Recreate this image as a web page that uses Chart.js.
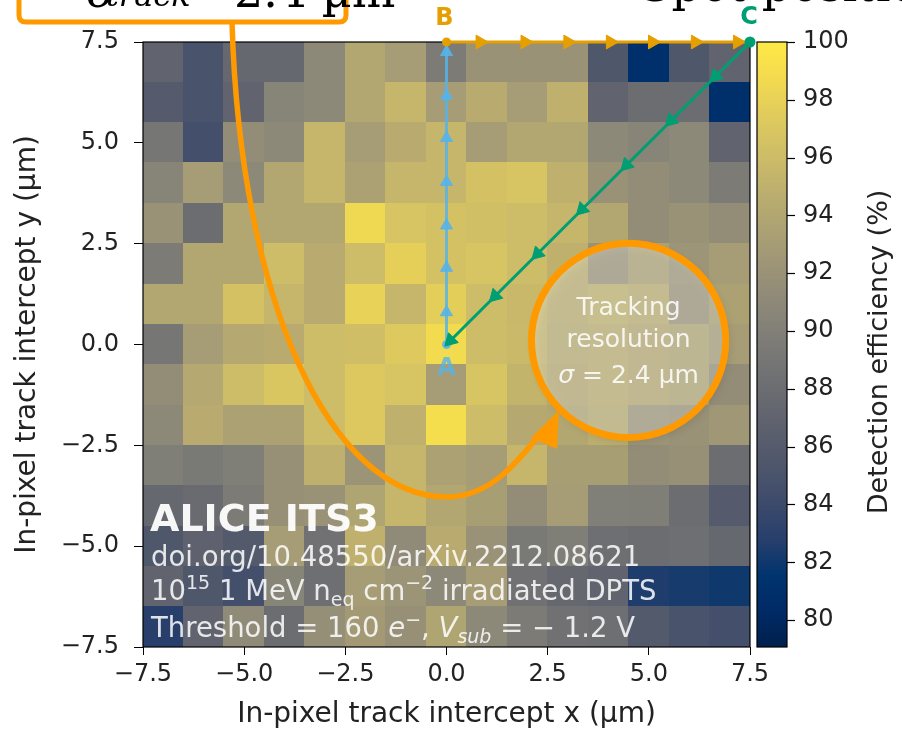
<!DOCTYPE html>
<html>
<head>
<meta charset="utf-8">
<script src="https://cdn.jsdelivr.net/npm/chart.js@4.4.1/dist/chart.umd.min.js"></script>
<style>
  html, body { margin: 0; padding: 0; background: #fff; }
</style>
</head>
<body>
<canvas id="effChart" width="902" height="732"></canvas>
<script>
// pixel-cell centres (um)
var xCenters = [-7, -6, -5, -4, -3, -2, -1, 0, 1, 2, 3, 4, 5, 6, 7];
var yCenters = [7, 6, 5, 4, 3, 2, 1, 0, -1, -2, -3, -4, -5, -6, -7];

// detection efficiency (%), one row per yCenter, columns follow xCenters
var efficiency = [
  [87, 85, 87.5, 87.5, 91, 94, 93, 89.5, 92, 92, 92, 85.5, 81, 85.5, 87],
  [86, 85, 87, 90.5, 91, 94, 95.5, 93, 94.5, 93, 95, 87, 88, 88, 81],
  [89, 84.5, 91.5, 91, 95.5, 93, 94.5, 95.5, 93, 94, 94, 91, 90.5, 91, 87],
  [90.5, 93, 91, 94, 95.5, 93.5, 95.5, 95.5, 96.5, 96.8, 95, 92, 91.5, 91, 89.5],
  [92, 88, 94, 94, 94, 98.5, 96.8, 96.5, 96.3, 96, 95.5, 94, 91.5, 92, 91.5],
  [89.5, 94, 94, 96, 94.5, 96, 97.8, 96.5, 96.8, 96, 95, 92, 93.5, 92.3, 93],
  [94, 94, 96.5, 95.5, 94.5, 98, 95.5, 97.7, 96, 95.7, 95, 95.5, 95, 92, 93.5],
  [89, 93, 94.2, 94.5, 96, 96.2, 97.3, 98.8, 96, 95.8, 94.8, 95, 94.5, 94, 93],
  [91.5, 94.2, 96, 97, 96, 97.2, 96.8, 93, 96.8, 95.3, 94.5, 95, 94.5, 94, 91.5],
  [91, 94.5, 93.5, 93.5, 96, 97.2, 95, 99, 96, 94.2, 94, 94.8, 92.3, 92, 92.5],
  [89.8, 89.3, 89.8, 91.8, 95, 92.2, 95.5, 93.5, 93, 95.5, 93.2, 93.2, 91.5, 91.8, 88],
  [87.5, 87.8, 89.5, 91.8, 92, 93.8, 95.5, 94, 93.2, 91.5, 93, 90, 89.8, 88, 86],
  [85.5, 86.8, 85.8, 93, 88.5, 95, 91.2, 94.5, 92, 89.3, 89.8, 88.2, 88, 88.3, 87.5],
  [87, 85.5, 84.5, 90.5, 88.3, 93, 92.2, 91, 93, 88.5, 87.5, 87, 82.5, 82.3, 82],
  [82.8, 87, 91.2, 88, 91.7, 92.8, 91.8, 93.8, 91, 89.5, 88.5, 88.2, 85.8, 85, 84.5]
];

var axisTicks = [-7.5, -5, -2.5, 0, 2.5, 5, 7.5];
var cbTicks = [80, 82, 84, 86, 88, 90, 92, 94, 96, 98, 100];
var cbMin = 79.07, cbMax = 100;

// scan path A -> B -> C -> A (um)
var pathAB = [{x: 0, y: 0}, {x: 0, y: 7.5}];
var arrowsAB = [0.8, 1.9, 2.95, 4.03, 5.12, 6.16, 7.25];
var pathBC = [{x: 0, y: 7.5}, {x: 7.5, y: 7.5}];
var arrowsBC = [0.83, 1.94, 3.0, 4.05, 5.09, 6.15, 7.19];
var pathCA = [{x: 7.5, y: 7.5}, {x: 0.05, y: 0.05}];
var arrowsCA = [6.65, 5.55, 4.45, 3.35, 2.25, 1.2, 0.1];

// tracking resolution circle (um)
var sigmaCentre = {x: 4.5, y: 0.1};
var sigmaTrack = 2.4;

var CIVIDIS = [[0,32,76],[0,42,102],[0,52,110],[39,63,108],[60,74,107],[76,85,107],
  [91,95,109],[104,106,112],[117,117,117],[131,129,120],[146,140,120],[161,152,118],
  [176,165,114],[192,177,109],[209,191,102],[225,204,92],[243,219,79],[255,233,69]];

function cividis(t) {
  t = Math.max(0, Math.min(1, t));
  var n = CIVIDIS.length - 1;
  var p = t * n, i = Math.min(Math.floor(p), n - 1), f = p - i;
  var a = CIVIDIS[i], b = CIVIDIS[i + 1];
  return 'rgb(' + Math.round(a[0] + (b[0] - a[0]) * f) + ',' +
    Math.round(a[1] + (b[1] - a[1]) * f) + ',' + Math.round(a[2] + (b[2] - a[2]) * f) + ')';
}

function fmt(v) {
  return (v < 0 ? '\u2212' : '') + Math.abs(v).toFixed(1);
}

function drawRuns(c, x, y, runs) {
  runs.forEach(function (r) {
    c.font = r.font;
    c.fillText(r.t, x, y + (r.dy || 0));
    x += c.measureText(r.t).width;
  });
}

function noPad(s) {
  s.paddingTop = 0; s.paddingBottom = 0; s.paddingLeft = 0; s.paddingRight = 0;
}

var ORANGE = '#ff9900';
var tickFont = {family: 'DejaVu Sans', size: 24};
var titleFont = {family: 'DejaVu Sans', size: 28};

var heatmapPlugin = {
  id: 'heatmap',
  beforeDatasetsDraw: function (chart) {
    var c = chart.ctx, xs = chart.scales.x, ys = chart.scales.y;
    c.save();
    efficiency.forEach(function (row, j) {
      row.forEach(function (v, i) {
        var x0 = xs.getPixelForValue(xCenters[i] - 0.5), x1 = xs.getPixelForValue(xCenters[i] + 0.5);
        var y0 = ys.getPixelForValue(yCenters[j] + 0.5), y1 = ys.getPixelForValue(yCenters[j] - 0.5);
        c.fillStyle = cividis((v - cbMin) / (cbMax - cbMin));
        c.fillRect(Math.floor(x0), Math.floor(y0), Math.ceil(x1) - Math.floor(x0), Math.ceil(y1) - Math.floor(y0));
      });
    });
    var a = chart.chartArea;
    c.strokeStyle = '#000';
    c.lineWidth = 1.2;
    c.strokeRect(a.left, a.top, a.right - a.left, a.bottom - a.top);

    // colorbar
    var cb = chart.scales.cb;
    var top = cb.getPixelForValue(cbMax), bot = cb.getPixelForValue(cbMin);
    var bx = a.right + 7, bw = 30;
    var g = c.createLinearGradient(0, bot, 0, top);
    CIVIDIS.forEach(function (col, k) {
      g.addColorStop(k / (CIVIDIS.length - 1), 'rgb(' + col.join(',') + ')');
    });
    c.fillStyle = g;
    c.fillRect(bx, top, bw, bot - top);
    c.strokeRect(bx, top, bw, bot - top);
    cbTicks.forEach(function (v) {
      var py = Math.round(cb.getPixelForValue(v)) + 0.5;
      c.beginPath();
      c.moveTo(bx + bw, py);
      c.lineTo(bx + bw + 8, py);
      c.stroke();
    });
    c.fillStyle = '#222';
    c.font = '27px "DejaVu Sans"';
    c.textAlign = 'center';
    c.textBaseline = 'middle';
    c.translate(880, 352);
    c.rotate(-Math.PI / 2);
    c.fillText('Detection efficiency (%)', 0, 0);
    c.restore();
  },
  afterDraw: function (chart) {
    var c = chart.ctx, xs = chart.scales.x, ys = chart.scales.y;
    c.save();

    // tracking resolution circle
    var cx = xs.getPixelForValue(sigmaCentre.x), cy = ys.getPixelForValue(sigmaCentre.y);
    var r = xs.getPixelForValue(sigmaCentre.x + sigmaTrack) - cx;
    c.save();
    c.shadowColor = 'rgba(0,0,0,0.35)';
    c.shadowBlur = 10;
    c.shadowOffsetX = 3;
    c.shadowOffsetY = 4;
    c.beginPath();
    c.arc(cx, cy, r, 0, Math.PI * 2);
    c.fillStyle = 'rgba(255,255,245,0.32)';
    c.fill();
    c.restore();
    c.beginPath();
    c.arc(cx, cy, r, 0, Math.PI * 2);
    c.strokeStyle = ORANGE;
    c.lineWidth = 7;
    c.stroke();

    c.fillStyle = 'rgba(255,255,255,0.85)';
    c.textAlign = 'center';
    c.textBaseline = 'alphabetic';
    c.font = '25px "DejaVu Sans"';
    c.fillText('Tracking', cx, cy - 25);
    c.fillText('resolution', cx, cy + 7);
    c.textAlign = 'left';
    c.font = 'italic 25px "DejaVu Sans"';
    var w1 = c.measureText('\u03c3').width;
    c.font = '25px "DejaVu Sans"';
    var w2 = c.measureText(' = 2.4 \u00b5m').width;
    drawRuns(c, cx - (w1 + w2) / 2, cy + 43, [
      {t: '\u03c3', font: 'italic 25px "DejaVu Sans"'},
      {t: ' = 2.4 \u00b5m', font: '25px "DejaVu Sans"'}
    ]);

    // curved arrow from the box to the circle
    c.strokeStyle = ORANGE;
    c.lineWidth = 5.5;
    c.beginPath();
    c.moveTo(232, 22);
    c.bezierCurveTo(240, 300, 330, 497, 447, 497);
    c.bezierCurveTo(490, 497, 518, 462, 543, 430);
    c.stroke();
    c.fillStyle = ORANGE;
    c.beginPath();
    c.moveTo(559, 410);
    c.lineTo(531, 438);
    c.lineTo(557, 449);
    c.closePath();
    c.fill();

    // formula box at the top (mostly outside the picture)
    c.lineWidth = 5;
    c.beginPath();
    c.moveTo(19, -20);
    c.lineTo(19, 15);
    c.quadraticCurveTo(19, 22, 26, 22);
    c.lineTo(339, 22);
    c.quadraticCurveTo(346, 22, 346, 15);
    c.lineTo(346, -20);
    c.stroke();
    c.fillStyle = '#000';
    c.textAlign = 'left';
    c.textBaseline = 'alphabetic';
    drawRuns(c, 86, 7, [{t: '\u03c3', font: 'italic 46px "DejaVu Serif"'}]);
    drawRuns(c, 106, 6, [{t: 'track', font: 'italic 32px "DejaVu Serif"'}]);
    drawRuns(c, 190, 7, [{t: '=', font: '46px "DejaVu Serif"'}]);
    drawRuns(c, 234, 7, [{t: '2.4 \u00b5m', font: '46px "DejaVu Serif"'}]);
    c.font = '46px "DejaVu Serif"';
    c.fillText('Spot position', 640, 1);

    // corner labels
    c.font = 'bold 24px "DejaVu Sans"';
    c.textAlign = 'center';
    c.textBaseline = 'middle';
    c.fillStyle = '#e69f00';
    c.fillText('B', xs.getPixelForValue(0) - 2, 19);
    c.fillStyle = '#009e73';
    c.fillText('C', xs.getPixelForValue(7.5) - 1, 18);
    c.fillStyle = 'rgba(86,180,233,0.8)';
    c.fillText('A', xs.getPixelForValue(0), ys.getPixelForValue(-0.6));

    // experiment text
    c.textAlign = 'left';
    c.textBaseline = 'alphabetic';
    c.fillStyle = 'rgba(255,255,255,0.95)';
    c.font = 'bold 38px "DejaVu Sans"';
    c.fillText('ALICE ITS3', 150, 531);
    c.fillStyle = 'rgba(255,255,255,0.85)';
    var F = '27.5px "DejaVu Sans"', S = '19px "DejaVu Sans"';
    var I = 'italic 27.5px "DejaVu Sans"', IS = 'italic 19px "DejaVu Sans"';
    drawRuns(c, 151, 566, [{t: 'doi.org/10.48550/arXiv.2212.08621', font: F}]);
    drawRuns(c, 151, 600, [
      {t: '10', font: F}, {t: '15', font: S, dy: -11}, {t: ' 1 MeV n', font: F},
      {t: 'eq', font: S, dy: 6}, {t: ' cm', font: F}, {t: '\u22122', font: S, dy: -11},
      {t: ' irradiated DPTS', font: F}
    ]);
    drawRuns(c, 151, 637, [
      {t: 'Threshold = 160 ', font: F}, {t: 'e', font: I}, {t: '\u2212', font: S, dy: -11},
      {t: ', ', font: F}, {t: 'V', font: I}, {t: 'sub', font: IS, dy: 6},
      {t: ' = \u2212 1.2 V', font: F}
    ]);
    c.restore();
  }
};

var ctx = document.getElementById('effChart').getContext('2d');
var effChart = new Chart(ctx, {
  type: 'scatter',
  data: {
    datasets: [
      {
        label: 'C-A arrows',
        data: arrowsCA.map(function (v) { return {x: v, y: v}; }),
        pointStyle: 'triangle', pointRadius: 8, pointRotation: 225,
        backgroundColor: '#009e73', borderColor: '#009e73', borderWidth: 1, clip: false
      },
      {
        label: 'C-A',
        data: pathCA, showLine: true, borderColor: '#009e73', borderWidth: 3,
        pointRadius: [4, 0], pointStyle: 'circle', backgroundColor: '#009e73', clip: false
      },
      {
        label: 'B-C arrows',
        data: arrowsBC.map(function (v) { return {x: v, y: 7.5}; }),
        pointStyle: 'triangle', pointRadius: 8, pointRotation: 90,
        backgroundColor: '#e69f00', borderColor: '#e69f00', borderWidth: 1, clip: false
      },
      {
        label: 'B-C',
        data: pathBC, showLine: true, borderColor: '#e69f00', borderWidth: 3,
        pointRadius: [3, 0], backgroundColor: '#e69f00', clip: false
      },
      {
        label: 'A-B arrows',
        data: arrowsAB.map(function (v) { return {x: 0, y: v}; }),
        pointStyle: 'triangle', pointRadius: 7, pointRotation: 0,
        backgroundColor: 'rgba(86,180,233,0.9)', borderColor: 'rgba(86,180,233,0.9)', borderWidth: 1, clip: false
      },
      {
        label: 'A-B',
        data: pathAB, showLine: true, borderColor: 'rgba(86,180,233,0.85)', borderWidth: 3,
        pointRadius: [3, 0], backgroundColor: 'rgba(86,180,233,0.85)', clip: false
      }
    ]
  },
  options: {
    responsive: false,
    animation: false,
    events: [],
    layout: {padding: {top: 42, left: 0, right: 0, bottom: 0}},
    plugins: {legend: {display: false}, tooltip: {enabled: false}},
    scales: {
      x: {
        type: 'linear', position: 'bottom', min: -7.5, max: 7.5,
        afterBuildTicks: function (s) { s.ticks = axisTicks.map(function (v) { return {value: v}; }); },
        afterFit: function (s) { s.height = 85; noPad(s); },
        grid: {drawOnChartArea: false, drawTicks: true, tickLength: 8, color: '#000'},
        border: {display: false},
        ticks: {callback: fmt, font: tickFont, color: '#222', padding: 5, maxRotation: 0, autoSkip: false},
        title: {display: true, text: 'In-pixel track intercept x (\u00b5m)', font: titleFont, color: '#222', padding: {top: 0, bottom: 0}}
      },
      y: {
        type: 'linear', position: 'left', min: -7.5, max: 7.5,
        afterBuildTicks: function (s) { s.ticks = axisTicks.map(function (v) { return {value: v}; }); },
        afterFit: function (s) { s.width = 143; noPad(s); },
        grid: {drawOnChartArea: false, drawTicks: true, tickLength: 9, color: '#000'},
        border: {display: false},
        ticks: {callback: fmt, font: tickFont, color: '#222', padding: 15, autoSkip: false},
        title: {display: true, text: 'In-pixel track intercept y (\u00b5m)', font: titleFont, color: '#222', padding: {top: 11, bottom: 0}}
      },
      cb: {
        type: 'linear', axis: 'y', position: 'right', min: cbMin, max: cbMax,
        afterBuildTicks: function (s) { s.ticks = cbTicks.map(function (v) { return {value: v}; }); },
        afterFit: function (s) { s.width = 152; noPad(s); },
        grid: {display: false, drawTicks: false},
        border: {display: false},
        ticks: {font: tickFont, color: '#222', padding: 53, autoSkip: false}
      }
    }
  },
  plugins: [heatmapPlugin]
});
</script>
</body>
</html>
